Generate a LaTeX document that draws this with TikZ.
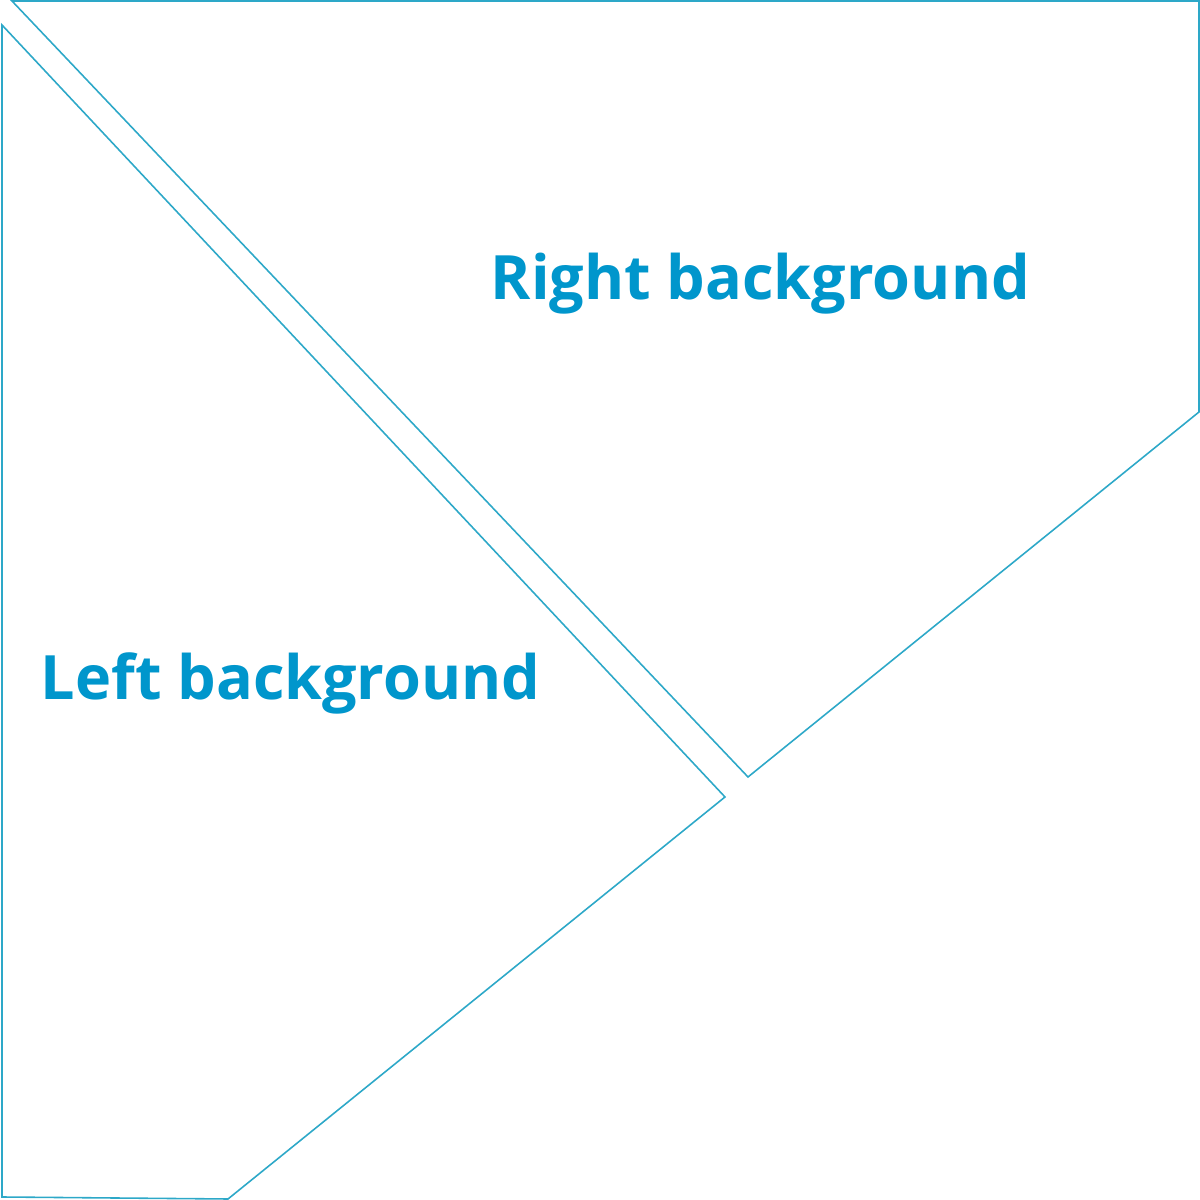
\documentclass[tikz,border=0pt]{standalone}
\usepackage{fontspec}
\setmainfont{Open Sans}
\usepackage{xcolor}
\definecolor{edgeblue}{RGB}{45,168,200}
\definecolor{textblue}{RGB}{0,150,204}

\begin{document}
\begin{tikzpicture}[
  x=1cm,y=1cm,
  region/.style={draw=edgeblue,fill=white,line width=.45pt,line join=miter},
  rlabel/.style={font=\bfseries\fontsize{17.4}{21}\selectfont,text=textblue,
    inner sep=0pt,anchor=base west}
]
  \useasboundingbox (0,0) rectangle (12,12);
  % left piece
  \coordinate (ltop) at (0.02,11.75);
  \coordinate (ltip) at (7.25,4.03);
  \coordinate (lbot) at (2.28,0.01);
  \coordinate (lcorner) at (0.02,0.03);
  \draw[region] (ltop)--(ltip)--(lbot)--(lcorner)--cycle;
  % right piece
  \coordinate (rtop) at (0.12,11.99);
  \coordinate (rcorner) at (11.99,11.99);
  \coordinate (rside) at (11.99,7.88);
  \coordinate (rtip) at (7.48,4.23);
  \draw[region] (rtop)--(rcorner)--(rside)--(rtip)--cycle;
  \node[rlabel] (right) at (4.90,9.00) {Right background};
  \node[rlabel] (left) at (0.40,5.00) {Left background};
\end{tikzpicture}
\end{document}
